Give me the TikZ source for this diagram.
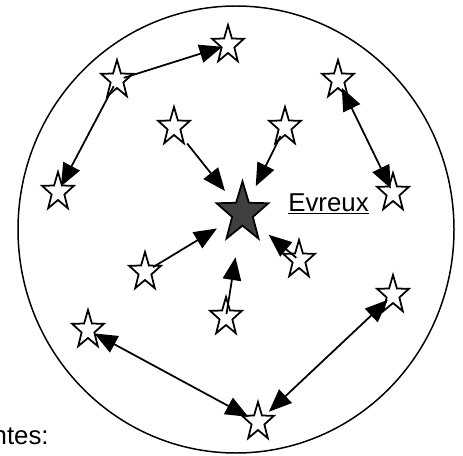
\documentclass[tikz,border=0pt]{standalone}
\usepackage{fontspec}
\setmainfont{Liberation Sans}
\usepackage{tikz}
\usetikzlibrary{shapes.geometric, arrows.meta, positioning, calc}

\begin{document}
\begin{tikzpicture}[x=0.02cm, y=-0.02cm,
    town/.style={star, star points=5, star point ratio=2.5, draw, line width=1pt,
      fill=white, inner sep=0pt, minimum size=19pt, yscale=1.2, transform shape},
    capital/.style={town, fill=black!75, minimum size=31pt, yscale=1.16/1.2},
    link/.style={line width=1pt, -{Triangle[length=13pt, width=10.5pt]}},
    both/.style={link, {Triangle[length=13pt, width=10.5pt]}-{Triangle[length=13pt, width=10.5pt]}}]
  \useasboundingbox (0,0) rectangle (463,456);

  % Department border
  \draw[line width=0.85pt] (236,229.5) ellipse [x radius=218, y radius=223.5];

  % Towns
  \node[capital] (ev) at (242.5,213) {};
  \node[town] (s1) at (228,45) {};
  \node[town] (s2) at (117,80) {};
  \node[town] (s3) at (58,192) {};
  \node[town] (s4) at (174,127) {};
  \node[town] (s5) at (285,127) {};
  \node[town] (s6) at (145,272) {};
  \node[town] (s7) at (226,317) {};
  \node[town] (s8) at (299,260) {};
  \node[town] (s9) at (338,80) {};
  \node[town] (s10) at (393,193) {};
  \node[town] (s11) at (393,295) {};
  \node[town] (s12) at (88,330) {};
  \node[town] (s13) at (258,422) {};

  % Labels
  \node[anchor=base west, inner sep=0pt, font=\fontsize{14.7}{17}\selectfont] (evlabel) at (288,211) {\underline{Evreux}};
  \node[anchor=base east, inner sep=0pt, font=\fontsize{14.7}{17}\selectfont] (note) at (49,444) {ntes:};

  % Links towards the prefecture
  \draw[link, shorten <=12pt, shorten >=16pt] (s4.center) -- (ev.center);
  \draw[link, shorten <=5.7pt, shorten >=17pt] (s5.center) -- (ev.center);
  \draw[link, shorten <=5.3pt, shorten >=17pt] (s6.center) -- (ev.center);
  \draw[link, shorten <=1.7pt, shorten >=25.5pt] (s7.center) -- (ev.center);
  \draw[link, shorten <=2pt, shorten >=19.4pt] (s8.center) -- (ev.center);

  % Links between outer towns
  \draw[link, shorten <=4pt, shorten >=3.4pt] (s2.center) -- (s1.center);
  \draw[link, shorten <=4pt, shorten >=3.6pt] (s2.center) -- (s3.center);
  \draw[both, shorten <=4.9pt, shorten >=2.8pt] (s9.center) -- (s10.center);
  \draw[both, shorten <=4.1pt, shorten >=6.2pt] (s12.center) -- (s13.center);
  \draw[both, shorten <=8.5pt, shorten >=4pt] (s13.center) -- (s11.center);
\end{tikzpicture}
\end{document}
